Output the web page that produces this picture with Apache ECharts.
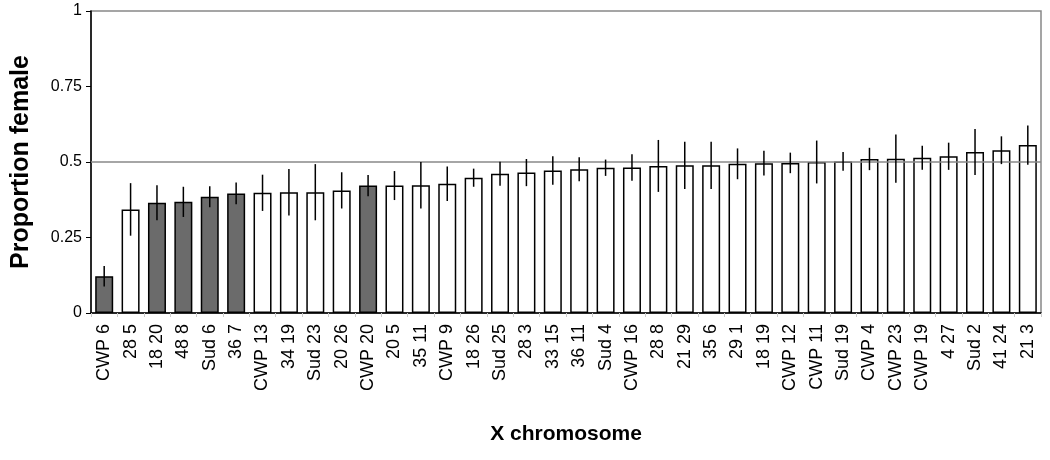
<!DOCTYPE html>
<html>
<head>
<meta charset="utf-8">
<script src="https://cdn.jsdelivr.net/npm/echarts@6/dist/echarts.min.js"></script>
<style>
  html, body { margin: 0; padding: 0; background: #fff; }
  #chart { width: 1050px; height: 460px; }
</style>
</head>
<body>
<div id="chart"></div>
<script>
const categories = ['CWP 6', '28 5', '18 20', '48 8', 'Sud 6', '36 7', 'CWP 13', '34 19', 'Sud 23', '20 26',
  'CWP 20', '20 5', '35 11', 'CWP 9', '18 26', 'Sud 25', '28 3', '33 15', '36 11', 'Sud 4',
  'CWP 16', '28 8', '21 29', '35 6', '29 1', '18 19', 'CWP 12', 'CWP 11', 'Sud 19', 'CWP 4',
  'CWP 23', 'CWP 19', '4 27', 'Sud 2', '41 24', '21 3']

// mean proportion female
const proportion = [0.122, 0.343, 0.365, 0.368, 0.385, 0.396, 0.398, 0.400, 0.400, 0.406,
  0.422, 0.422, 0.423, 0.428, 0.448, 0.461, 0.465, 0.472, 0.476, 0.481,
  0.482, 0.487, 0.489, 0.489, 0.494, 0.496, 0.497, 0.500, 0.502, 0.510,
  0.511, 0.514, 0.519, 0.533, 0.539, 0.556]

// half-width of error bar
const errHalf = [0.034, 0.087, 0.058, 0.050, 0.035, 0.036, 0.060, 0.077, 0.093, 0.060,
  0.035, 0.048, 0.077, 0.057, 0.030, 0.040, 0.045, 0.047, 0.040, 0.027,
  0.044, 0.086, 0.078, 0.078, 0.051, 0.041, 0.034, 0.071, 0.031, 0.037,
  0.080, 0.040, 0.045, 0.076, 0.046, 0.065]

// populations drawn in dark grey
const shaded = ['CWP 6', '18 20', '48 8', 'Sud 6', '36 7', 'CWP 20']

const yTicks = [0, 0.25, 0.5, 0.75, 1]

const chart = echarts.init(document.getElementById('chart'))

const font = 'Liberation Sans, Arial, sans-serif'

const barData = proportion.map((v, i) => ({
  value: v,
  itemStyle: { color: shaded.includes(categories[i]) ? '#6b6b6b' : '#ffffff' }
}))

const errData = proportion.map((v, i) => [i, v - errHalf[i], v + errHalf[i]])

chart.setOption({
  animation: false,
  grid: {
    left: 91, right: 9, top: 11, bottom: 147,
    show: true, borderColor: '#888', borderWidth: 1.5, backgroundColor: 'transparent'
  },
  xAxis: {
    type: 'category',
    data: categories,
    name: 'X chromosome',
    nameLocation: 'middle',
    nameGap: 111,
    nameTextStyle: { fontFamily: font, fontSize: 21, fontWeight: 'bold', color: '#000' },
    axisLine: { lineStyle: { color: '#000', width: 1.5 } },
    axisTick: { show: true, length: 4, lineStyle: { color: '#ccc' } },
    axisLabel: { rotate: 90, interval: 0, margin: 11, fontFamily: font, fontSize: 18, color: '#000' }
  },
  yAxis: {
    type: 'value',
    min: 0, max: 1, interval: 0.25,
    name: 'Proportion female',
    nameLocation: 'middle',
    nameGap: 57,
    nameTextStyle: { fontFamily: font, fontSize: 25, fontWeight: 'bold', color: '#000' },
    axisLine: { show: true, lineStyle: { color: '#000', width: 1.5 } },
    axisTick: { show: true, length: 5, lineStyle: { color: '#000' } },
    axisLabel: {
      margin: 9, fontFamily: font, fontSize: 16, color: '#000',
      formatter: (v) => yTicks.includes(v) ? String(v) : ''
    },
    splitLine: { show: false }
  },
  series: [
    {
      type: 'bar',
      data: barData,
      barWidth: 18,
      itemStyle: { borderColor: '#000', borderWidth: 1.5 },
      markLine: {
        silent: true,
        symbol: 'none',
        label: { show: false },
        lineStyle: { color: '#888', type: 'solid', width: 1.5 },
        data: [{ yAxis: 0.5 }]
      }
    },
    {
      type: 'custom',
      data: errData,
      z: 5,
      renderItem: (params, api) => {
        const lo = api.coord([api.value(0), api.value(1)])
        const hi = api.coord([api.value(0), api.value(2)])
        return {
          type: 'line',
          shape: { x1: lo[0], y1: lo[1], x2: hi[0], y2: hi[1] },
          style: { stroke: '#000', lineWidth: 1.5 }
        }
      }
    }
  ]
})
</script>
</body>
</html>
